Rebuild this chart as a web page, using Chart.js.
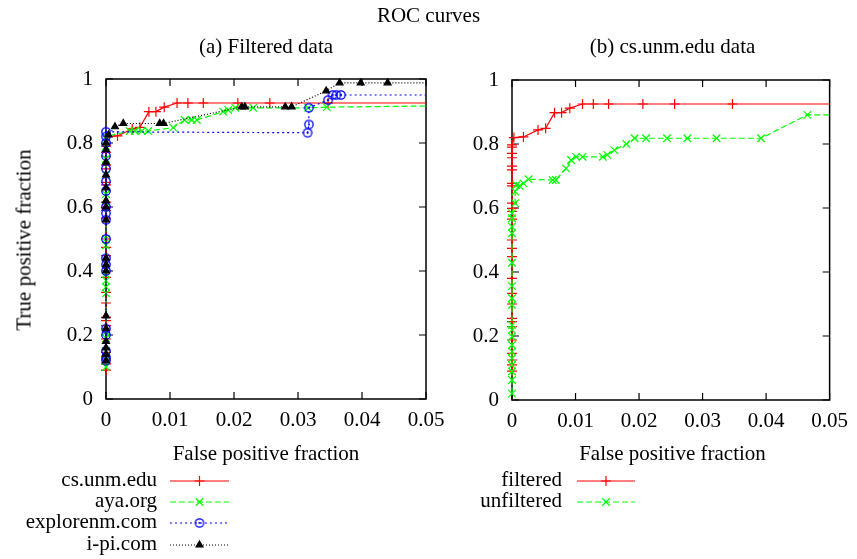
<!DOCTYPE html>
<html><head><meta charset="utf-8">
<script src="https://cdn.jsdelivr.net/npm/chart.js@4/dist/chart.umd.min.js"></script>
<style>
body{margin:0;background:#fff;}
#wrap{position:relative;width:857px;height:559px;overflow:hidden;font-family:"Liberation Serif","Times New Roman",serif;font-size:21px;color:#000;background:#fff;}
canvas{position:absolute;left:0;top:0;}
.t{position:absolute;white-space:nowrap;line-height:1;}
</style></head><body>
<div id="wrap">
<canvas id="ca" width="857" height="559"></canvas>
<canvas id="cb" width="857" height="559"></canvas>
<div class="t" style="left:0;width:857px;text-align:center;top:5px">ROC curves</div>
<div class="t" style="left:106px;width:320px;text-align:center;top:36px">(a) Filtered data</div>
<div class="t" style="left:512px;width:321px;text-align:center;top:36px">(b) cs.unm.edu data</div>
<div class="t" style="left:24px;top:240px;transform:translate(-50%,-50%) rotate(-90deg)">True positive fraction</div>
<div class="t" style="left:106px;width:320px;text-align:center;top:443px">False positive fraction</div>
<div class="t" style="left:512px;width:321px;text-align:center;top:443px">False positive fraction</div>
<div class="t" style="right:700px;text-align:right;top:469px">cs.unm.edu</div>
<div class="t" style="right:700px;text-align:right;top:490px">aya.org</div>
<div class="t" style="right:700px;text-align:right;top:511px">explorenm.com</div>
<div class="t" style="right:700px;text-align:right;top:533px">i-pi.com</div>
<div class="t" style="right:295px;text-align:right;top:469px">filtered</div>
<div class="t" style="right:295px;text-align:right;top:490px">unfiltered</div>
</div>
<script>
// ---------- tick labels ----------
const xTickVals = [0, 0.01, 0.02, 0.03, 0.04, 0.05];
const xTickLabels = ['0', '0.01', '0.02', '0.03', '0.04', '0.05'];
const yTickVals = [0, 0.2, 0.4, 0.6, 0.8, 1];
const yTickLabels = ['0', '0.2', '0.4', '0.6', '0.8', '1'];

// ---------- (a) filtered data / (b) filtered: cs.unm.edu ----------
const csUnmX = [0,0,0,0,0,0,0,0,0,0,0,0,0,0,0,0,0,0,0,0,0,0,0,0,0,0,
  0.0003,0.0018,0.0041,0.0053,0.0067,0.0078,0.0091,0.0111,0.0128,0.0152,0.0206,0.0256,0.0347,0.06];
const csUnmY = [0.09,0.11,0.125,0.146,0.1875,0.229,0.245,0.255,0.30,0.333,0.38,0.448,0.474,0.5,0.565,0.589,0.599,0.615,0.669,0.677,0.719,0.731,0.757,0.771,0.79,0.797,
  0.82,0.822,0.844,0.849,0.898,0.898,0.912,0.925,0.925,0.925,0.925,0.925,0.925,0.925];

// aya.org
const ayaX = [0,0,0,0,0,0,0,0,0,0,0,0,0,0,0,0,0,
  0.0037,0.0045,0.0056,0.0066,0.0105,0.0123,0.0134,0.0142,0.0183,0.0191,0.0202,0.023,0.0316,0.0345,0.06];
const ayaY = [0.1,0.12,0.15,0.19,0.21,0.33,0.35,0.37,0.39,0.48,0.5,0.6,0.64,0.7,0.75,0.79,0.82,
  0.8375,0.8375,0.8375,0.8375,0.848,0.872,0.872,0.872,0.898,0.903,0.91,0.91,0.91,0.912,0.918];

// explorenm.com
const exploreX = [0,0,0,0,0,0,0,0,0,0,0,0,0,0,0,0,0,0,0,
  0.0315,0.0317,0.0317,0.0347,0.0354,0.036,0.0367,0.06];
const exploreY = [0.12,0.13,0.15,0.2,0.22,0.4,0.42,0.44,0.5,0.56,0.58,0.6,0.65,0.68,0.72,0.76,0.8,0.82,0.835,
  0.832,0.858,0.91,0.934,0.95,0.95,0.95,0.95];

// i-pi.com
const ipiX = [0,0,0,0,0,0,0,0,0,0,0,0,0,0,0,0,0,
  0.0004,0.0014,0.0027,0.0084,0.009,0.0212,0.0217,0.028,0.029,0.0344,0.0365,0.0398,0.044,0.06];
const ipiY = [0.12,0.14,0.16,0.18,0.22,0.26,0.4,0.42,0.44,0.56,0.6,0.62,0.66,0.7,0.74,0.78,0.8,
  0.825,0.851,0.861,0.861,0.861,0.913,0.913,0.913,0.913,0.963,0.988,0.988,0.988,0.988];

// (b) unfiltered cs.unm.edu
const unfiltX = [0,0,0,0,0,0,0,0,0,0,0,0,0,0,0,0,0,0,
  0.0005,0.0005,0.0007,0.0012,0.0018,0.0026,0.0064,0.0069,0.0085,0.0093,0.0101,0.0111,0.0143,0.015,0.0161,0.018,0.0193,0.0211,0.0244,0.0276,0.0322,0.0392,0.0465,0.06];
const unfiltY = [0.02,0.0625,0.089,0.109,0.13,0.151,0.172,0.198,0.219,0.234,0.297,0.318,0.356,0.429,0.521,0.542,0.568,0.583,
  0.615,0.651,0.672,0.669,0.677,0.69,0.6875,0.6875,0.724,0.75,0.76,0.76,0.76,0.766,0.781,0.8,0.818,0.818,0.818,0.818,0.818,0.818,0.891,0.891];

const pts = (xs, ys) => xs.map((x, i) => ({x: x, y: ys[i]}));

// circle-with-dot marker
function circleDot(color){
  const c = document.createElement('canvas'); c.width = 12; c.height = 12;
  const g = c.getContext('2d');
  g.strokeStyle = color; g.fillStyle = color; g.lineWidth = 1.3;
  g.beginPath(); g.arc(6, 6, 4.2, 0, Math.PI*2); g.stroke();
  g.beginPath(); g.arc(6, 6, 1.1, 0, Math.PI*2); g.fill();
  return c;
}
const blueMarker = circleDot('#0000ff');

const CLIP = {left: 12, top: 12, right: 0, bottom: 12};
function ds(data, color, style, radius, dash, order, width){
  return {data: data, borderColor: color, backgroundColor: color, borderWidth: width || 1.2,
    borderDash: dash, tension: 0, pointStyle: style, pointRadius: radius, pointHoverRadius: radius,
    pointBorderColor: color, pointBackgroundColor: color, pointBorderWidth: 1.2, order: order, clip: CLIP};
}

const FONT = {family: "'Liberation Serif', 'Times New Roman', serif", size: 21};

const framePlugin = {
  id: 'frame',
  beforeDatasetsDraw(chart){
    const a = chart.chartArea, ctx = chart.ctx, xs = chart.scales.x, ys = chart.scales.y;
    ctx.save();
    ctx.strokeStyle = '#000'; ctx.lineWidth = 1.5;
    ctx.strokeRect(a.left, a.top, a.right - a.left, a.bottom - a.top);
    ctx.lineWidth = 1.2;
    const L = 7;
    ctx.beginPath();
    xTickVals.forEach(v => { const p = xs.getPixelForValue(v);
      ctx.moveTo(p, a.bottom); ctx.lineTo(p, a.bottom - L);
      ctx.moveTo(p, a.top); ctx.lineTo(p, a.top + L); });
    yTickVals.forEach(v => { const p = ys.getPixelForValue(v);
      ctx.moveTo(a.left, p); ctx.lineTo(a.left + L, p);
      ctx.moveTo(a.right, p); ctx.lineTo(a.right - L, p); });
    ctx.stroke();
    ctx.restore();
  }
};

const samplePlugin = {
  id: 'samples',
  afterDraw(chart, args, opts){
    const ctx = chart.ctx;
    chart.data.datasets.forEach((d, i) => {
      const y = opts.ys[i];
      ctx.save();
      ctx.strokeStyle = d.borderColor; ctx.lineWidth = d.borderWidth;
      ctx.setLineDash(d.borderDash || []);
      ctx.beginPath(); ctx.moveTo(opts.x1, y); ctx.lineTo(opts.x2, y); ctx.stroke();
      ctx.setLineDash([]);
      ctx.fillStyle = d.pointBackgroundColor; ctx.strokeStyle = d.pointBorderColor;
      Chart.helpers.drawPoint(ctx, {pointStyle: d.pointStyle, radius: d.pointRadius, rotation: 0, borderWidth: d.pointBorderWidth},
        (opts.x1 + opts.x2) / 2, y);
      ctx.restore();
    });
  }
};

function makeChart(id, datasets, area, yPad, legend){
  return new Chart(document.getElementById(id), {
    type: 'line',
    data: {datasets: datasets},
    options: {
      responsive: false, animation: false, devicePixelRatio: 1, parsing: true,
      layout: {padding: {left: 0, top: area.top, right: 857 - area.right, bottom: 0}},
      plugins: {legend: {display: false}, tooltip: {enabled: false}, title: {display: false}, samples: legend},
      scales: {
        x: {type: 'linear', min: 0, max: 0.05, grid: {display: false, drawTicks: false}, border: {display: false},
          afterFit(s){ s.height = 559 - area.bottom; },
          afterBuildTicks(s){ s.ticks = xTickVals.map(v => ({value: v})); },
          ticks: {autoSkip: false, maxRotation: 0, minRotation: 0, padding: 9, color: '#000', font: FONT,
            callback: (v, i) => xTickLabels[i]}},
        y: {type: 'linear', min: 0, max: 1, grid: {display: false, drawTicks: false}, border: {display: false},
          afterFit(s){ s.width = area.left; },
          afterBuildTicks(s){ s.ticks = yTickVals.map(v => ({value: v})); },
          ticks: {autoSkip: false, padding: yPad, color: '#000', font: FONT,
            callback: (v, i) => yTickLabels[i]}}
      }
    },
    plugins: [framePlugin, samplePlugin]
  });
}

makeChart('ca', [
  ds(pts(csUnmX, csUnmY), '#ff0000', 'cross', 5, [], 4),
  ds(pts(ayaX, ayaY), '#00ff00', 'crossRot', 5.3, [6, 3], 3),
  ds(pts(exploreX, exploreY), '#0000ff', blueMarker, 4.5, [2, 3], 2),
  ds(pts(ipiX, ipiY), '#000000', 'triangle', 4, [1, 2], 1)
], {left: 106, right: 426, top: 79, bottom: 399}, 13, {x1: 170, x2: 229, ys: [481, 502, 523, 545]});

makeChart('cb', [
  ds(pts(csUnmX, csUnmY), '#ff0000', 'cross', 5, [], 2),
  ds(pts(unfiltX, unfiltY), '#00ff00', 'crossRot', 5.3, [6, 3], 1)
], {left: 512, right: 833, top: 80, bottom: 400}, 13, {x1: 577, x2: 635, ys: [481, 502]});
</script>
</body></html>
